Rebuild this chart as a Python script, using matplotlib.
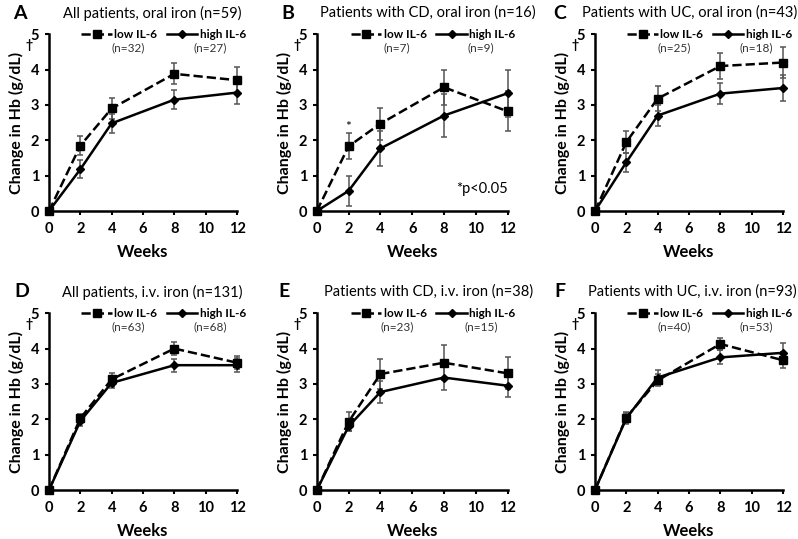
import matplotlib
matplotlib.use("Agg")
import matplotlib.pyplot as plt
from matplotlib.lines import Line2D

plt.rcParams['font.family'] = ['Lato', 'DejaVu Sans']

weeks = [0, 2, 4, 8, 12]

letters = ["A", "B", "C", "D", "E", "F"]
titles = ["All patients, oral iron (n=59)", "Patients with CD, oral iron (n=16)",
          "Patients with UC, oral iron (n=43)", "All patients, i.v. iron (n=131)",
          "Patients with CD, i.v. iron (n=38)", "Patients with UC, i.v. iron (n=93)"]
n_low = ["(n=32)", "(n=7)", "(n=25)", "(n=63)", "(n=23)", "(n=40)"]
n_high = ["(n=27)", "(n=9)", "(n=18)", "(n=68)", "(n=15)", "(n=53)"]

low_A = [0, 1.85, 2.90, 3.88, 3.70]
low_A_err = [0, 0.27, 0.30, 0.30, 0.37]
high_A = [0, 1.18, 2.48, 3.15, 3.35]
high_A_err = [0, 0.25, 0.27, 0.27, 0.33]

low_B = [0, 1.83, 2.47, 3.50, 2.82]
low_B_err = [0, 0.37, 0.45, 0.50, 0.57]
high_B = [0, 0.57, 1.77, 2.70, 3.33]
high_B_err = [0, 0.43, 0.50, 0.60, 0.67]

low_C = [0, 1.95, 3.18, 4.10, 4.20]
low_C_err = [0, 0.32, 0.35, 0.37, 0.43]
high_C = [0, 1.38, 2.70, 3.32, 3.48]
high_C_err = [0, 0.27, 0.30, 0.30, 0.37]

low_D = [0, 2.03, 3.13, 4.00, 3.60]
low_D_err = [0, 0.12, 0.18, 0.18, 0.18]
high_D = [0, 1.95, 3.03, 3.53, 3.53]
high_D_err = [0, 0.15, 0.15, 0.18, 0.20]

low_E = [0, 1.93, 3.28, 3.60, 3.30]
low_E_err = [0, 0.27, 0.42, 0.50, 0.45]
high_E = [0, 1.80, 2.77, 3.18, 2.95]
high_E_err = [0, 0.12, 0.30, 0.35, 0.33]

low_F = [0, 2.05, 3.10, 4.13, 3.67]
low_F_err = [0, 0.15, 0.17, 0.18, 0.22]
high_F = [0, 2.03, 3.18, 3.75, 3.88]
high_F_err = [0, 0.15, 0.22, 0.20, 0.27]

lows = [low_A, low_B, low_C, low_D, low_E, low_F]
lows_err = [low_A_err, low_B_err, low_C_err, low_D_err, low_E_err, low_F_err]
highs = [high_A, high_B, high_C, high_D, high_E, high_F]
highs_err = [high_A_err, high_B_err, high_C_err, high_D_err, high_E_err, high_F_err]

fig = plt.figure(figsize=(7.98, 5.39), dpi=100)
lefts = [0.0614, 0.397, 0.7456]
widths = [0.2356, 0.239, 0.2356]
bottoms = [0.6085, 0.0909]
h = 0.328
title_x = [0.55, 0.58, 0.505, 0.55, 0.586, 0.52]
letter_x = [-0.154, -0.15, -0.186, -0.144, -0.17, -0.186]

for i in range(6):
    r, c = divmod(i, 3)
    ax = fig.add_axes([lefts[c], bottoms[r], widths[c], h])
    for vals, errs, ls, mk, ms in [(lows[i], lows_err[i], '--', 's', 5.2),
                                   (highs[i], highs_err[i], '-', 'D', 3.8)]:
        ax.errorbar(weeks, vals, yerr=errs, fmt='none', ecolor='#555555',
                    elinewidth=1.1, capsize=2.5, capthick=1.1, zorder=2, clip_on=False)
        ax.plot(weeks, vals, color='black', linestyle=ls, linewidth=1.8,
                marker=mk, markersize=ms, zorder=3, clip_on=False)
    ax.set_xlim(0, 12)
    ax.set_ylim(0, 5)
    ax.set_xticks([0, 2, 4, 6, 8, 10, 12])
    ax.set_yticks([0, 1, 2, 3, 4, 5])
    for s in ['top', 'right']:
        ax.spines[s].set_visible(False)
    for s in ['left', 'bottom']:
        ax.spines[s].set_linewidth(1.8)
    ax.tick_params(axis='both', labelsize=10.5, width=1.5, length=3)
    ax.tick_params(axis='x', pad=5)
    ax.tick_params(axis='y', pad=4)
    for lab in ax.get_xticklabels() + ax.get_yticklabels():
        lab.set_fontweight('bold')
    ax.set_xlabel("Weeks", fontsize=12, fontweight='bold', labelpad=6)
    ax.set_ylabel("Change in Hb (g/dL)", fontsize=11.5, fontweight='bold', labelpad=5)
    ax.text(-0.105, 0.94, "\u2020", transform=ax.transAxes, fontsize=9,
            fontweight='bold', ha='center', va='center')
    ax.text(letter_x[i], 1.12, letters[i], transform=ax.transAxes, fontsize=14,
            fontweight='bold', ha='center', va='center')
    ax.text(title_x[i], 1.12, titles[i], transform=ax.transAxes, fontsize=10.5,
            ha='center', va='center')
    handles = [Line2D([], [], color='black', ls='--', lw=1.8, marker='s', markersize=5.2),
               Line2D([], [], color='black', ls='-', lw=1.8, marker='D', markersize=3.8)]
    ax.legend(handles, ["low IL-6", "high IL-6"], loc='center', bbox_to_anchor=(0.61, 1.0),
              ncol=2, frameon=False, handlelength=2.6, handletextpad=0.2,
              columnspacing=0.8, prop={'weight': 'bold', 'size': 8.5})
    ax.text(0.42, 0.925, n_low[i], transform=ax.transAxes, fontsize=8.5,
            ha='center', va='center', color='#333333')
    ax.text(0.86, 0.925, n_high[i], transform=ax.transAxes, fontsize=8.5,
            ha='center', va='center', color='#333333')
    if i == 1:
        ax.text(2, 2.38, "*", fontsize=10, ha='center', va='center')
        ax.text(10.4, 0.62, "*p<0.05", fontsize=10.5, ha='center', va='center')

fig.savefig("out.png", dpi=100)
